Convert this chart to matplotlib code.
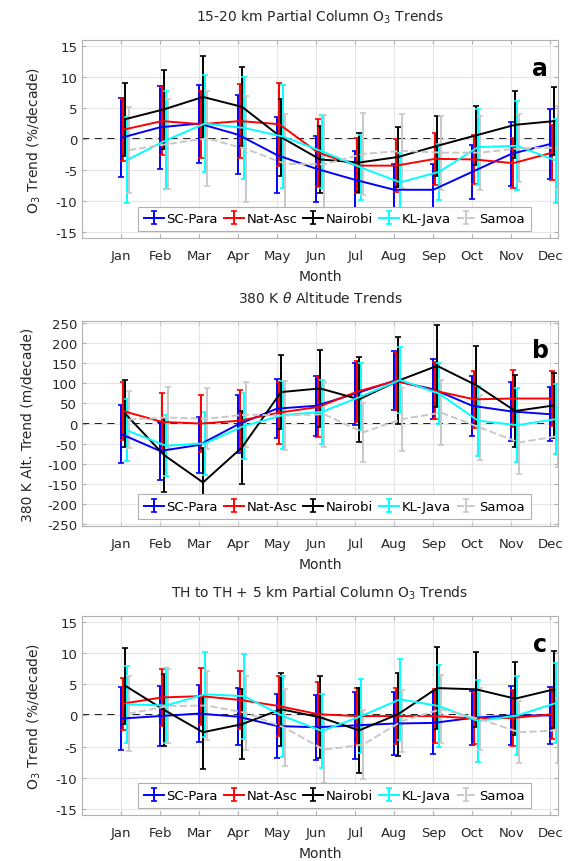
import matplotlib
matplotlib.use("Agg")
import matplotlib.pyplot as plt
import numpy as np

plt.rcParams['font.family'] = ['DejaVu Sans']
plt.rcParams['axes.unicode_minus'] = False

months = ['Jan', 'Feb', 'Mar', 'Apr', 'May', 'Jun',
          'Jul', 'Aug', 'Sep', 'Oct', 'Nov', 'Dec']
stations = ['SC-Para', 'Nat-Asc', 'Nairobi', 'KL-Java', 'Samoa']
colors = ['#0000FF', '#FF0000', '#000000', '#00FFFF', '#C8C8C8']
styles = ['-', '-', '-', '-', '--']
offsets = [0.0, 0.05, 0.1, 0.15, 0.2]

# panel a: 15-20 km partial column O3 trends (%/decade)
a_trend = {
    'SC-Para': [0.2, 1.9, 2.5, 0.7, -2.6, -4.8, -6.6, -8.2, -8.2, -5.3, -2.4, -0.8],
    'Nat-Asc': [1.5, 2.9, 2.4, 2.9, 2.4, -2.2, -4.3, -4.3, -3.2, -3.3, -3.9, -2.2],
    'Nairobi': [3.2, 4.8, 6.8, 5.2, 0.3, -3.3, -3.8, -2.9, -1.1, 0.6, 2.3, 2.9],
    'KL-Java': [-3.4, -0.2, 2.5, 1.8, 0.4, -2.0, -4.6, -7.0, -5.3, -1.3, -1.1, -3.5],
    'Samoa':   [-1.8, -0.8, 0.1, -1.6, -4.0, -4.1, -2.4, -1.9, -2.2, -2.2, -1.5, -1.4],
}
a_err = {
    'SC-Para': [6.4, 6.7, 6.3, 6.4, 6.2, 5.3, 4.6, 4.1, 4.2, 4.4, 5.2, 5.7],
    'Nat-Asc': [5.0, 5.5, 5.4, 6.0, 6.7, 5.5, 4.4, 4.3, 4.2, 3.9, 4.0, 4.4],
    'Nairobi': [5.9, 6.4, 6.7, 6.4, 6.2, 5.4, 4.8, 4.8, 4.8, 4.8, 5.4, 5.5],
    'KL-Java': [7.0, 7.9, 7.8, 8.3, 8.3, 5.9, 5.2, 4.7, 4.5, 6.2, 7.2, 6.8],
    'Samoa':   [6.9, 7.2, 7.7, 8.5, 8.0, 8.0, 6.6, 6.0, 6.0, 6.0, 5.5, 6.7],
}

# panel b: 380 K theta altitude trends (m/decade)
b_trend = {
    'SC-Para': [-26, -68, -53, -2, 37, 44, 74, 106, 85, 44, 30, 23],
    'Nat-Asc': [31, 4, 0, 7, 27, 41, 79, 106, 81, 60, 62, 62],
    'Nairobi': [25, -78, -146, -59, 78, 87, 60, 106, 143, 95, 31, 45],
    'KL-Java': [-17, -55, -49, -6, 21, 29, 67, 108, 74, 7, -4, 11],
    'Samoa':   [10, 15, 12, 22, 20, 23, -22, 11, 27, -10, -47, -31],
}
b_err = {
    'SC-Para': [72, 72, 70, 72, 74, 75, 77, 73, 74, 74, 73, 67],
    'Nat-Asc': [73, 72, 70, 75, 77, 75, 75, 72, 71, 71, 71, 69],
    'Nairobi': [82, 92, 86, 91, 91, 96, 105, 108, 102, 97, 89, 81],
    'KL-Java': [77, 75, 78, 82, 85, 79, 83, 82, 76, 87, 91, 86],
    'Samoa':   [70, 75, 75, 80, 85, 80, 74, 78, 80, 80, 78, 76],
}

# panel c: TH to TH + 5 km partial column O3 trends (%/decade)
c_trend = {
    'SC-Para': [-0.5, -0.1, 0.3, -0.2, -1.7, -1.9, -1.6, -1.3, -1.2, -0.4, 0.0, 0.0],
    'Nat-Asc': [1.9, 2.9, 3.1, 2.5, 1.5, 0.2, -0.1, -0.1, -0.1, -0.5, -0.4, 0.2],
    'Nairobi': [4.8, 0.9, -2.7, -1.4, 1.0, -0.3, -2.4, 0.2, 4.4, 4.2, 2.7, 4.2],
    'KL-Java': [1.8, 1.6, 3.4, 3.1, -0.1, -2.5, -0.1, 2.6, 1.5, -0.9, 0.0, 2.0],
    'Samoa':   [0.3, 1.5, 1.6, 0.4, -2.0, -5.5, -4.7, -0.9, 1.0, -0.6, -2.7, -2.4],
}
c_err = {
    'SC-Para': [5.1, 4.8, 4.6, 4.6, 5.2, 5.2, 5.35, 5.0, 4.95, 4.4, 4.7, 4.65],
    'Nat-Asc': [4.2, 4.6, 4.6, 4.7, 4.8, 5.1, 4.5, 4.5, 4.35, 4.1, 4.45, 4.05],
    'Nairobi': [6.1, 5.8, 5.9, 5.65, 5.9, 6.6, 6.8, 6.7, 6.6, 6.0, 5.85, 6.2],
    'KL-Java': [6.2, 6.1, 6.8, 6.85, 6.5, 6.0, 6.0, 6.5, 6.55, 6.65, 6.3, 6.4],
    'Samoa':   [6.0, 5.9, 5.5, 5.9, 6.2, 5.4, 5.5, 5.0, 5.5, 5.0, 5.0, 5.2],
}

panels = [
    ('15-20 km Partial Column O$_3$ Trends', 'O$_3$ Trend (%/decade)',
     a_trend, a_err, (-16, 16), np.arange(-15, 16, 5), 'a',
     [0.141, 0.7227, 0.818, 0.2297]),
    ('380 K $\\theta$ Altitude Trends', '380 K Alt. Trend (m/decade)',
     b_trend, b_err, (-254, 254), np.arange(-250, 251, 50), 'b',
     [0.141, 0.3886, 0.818, 0.2378]),
    ('TH to TH + 5 km Partial Column O$_3$ Trends', 'O$_3$ Trend (%/decade)',
     c_trend, c_err, (-16, 16), np.arange(-15, 16, 5), 'c',
     [0.141, 0.0534, 0.818, 0.2309]),
]

fig = plt.figure(figsize=(5.82, 8.62), dpi=100)
x = np.arange(1, 13)

for title, ylab, trend, err, ylim, yticks, tag, pos in panels:
    ax = fig.add_axes(pos)
    handles = []
    for k, name in enumerate(stations):
        h = ax.errorbar(x + offsets[k], trend[name], yerr=err[name],
                        color=colors[k], ls=styles[k], lw=1.4, elinewidth=1.4,
                        capsize=2, capthick=1.2, label=name)
        handles.append(h)
    ax.axhline(0, color='k', ls=(0, (4, 3)), lw=1.3, zorder=0.5)
    ax.set_xlim(0, 12.2)
    ax.set_ylim(*ylim)
    ax.set_xticks(x)
    ax.set_xticklabels(months)
    ax.set_yticks(yticks)
    ax.grid(True, color='#E6E6E6', lw=0.8)
    ax.set_axisbelow(True)
    for s in ax.spines.values():
        s.set_color('#B0B0B0')
    ax.tick_params(direction='in', top=True, right=True, length=3,
                   color='#B0B0B0', labelcolor='#262626', labelsize=9.5)
    ax.tick_params(axis='x', pad=8)
    ax.set_title(title, fontsize=10, color='#262626', pad=14)
    ax.set_xlabel('Month', fontsize=10, color='#262626', labelpad=5)
    ax.set_ylabel(ylab, fontsize=10, color='#262626', labelpad=9)
    ax.text(0.962, 0.86, tag, transform=ax.transAxes, fontsize=17,
            fontweight='bold', ha='center', va='center')
    leg = ax.legend(handles=handles, loc='lower center', ncol=5,
                    bbox_to_anchor=(0.53, 0.02), fontsize=9.5, frameon=True,
                    fancybox=False, edgecolor='#B0B0B0', framealpha=1,
                    handlelength=1.5, handletextpad=0.2, columnspacing=0.45,
                    borderpad=0.45, borderaxespad=0.2)
    leg.get_frame().set_linewidth(0.8)

fig.savefig('out.png', dpi=100)
